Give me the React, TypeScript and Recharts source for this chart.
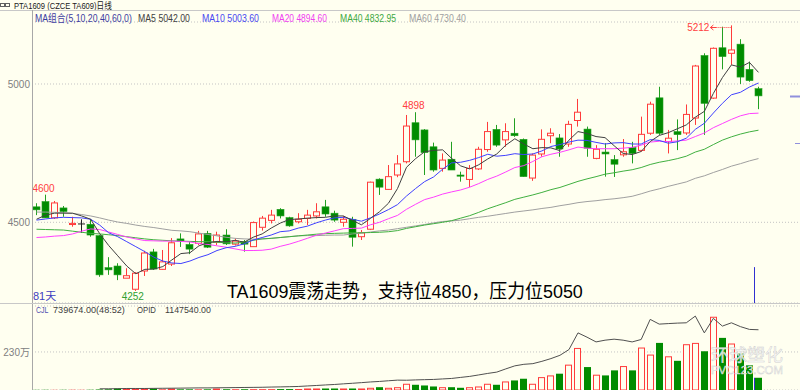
import React from 'react';
import { ComposedChart, Bar, Line, XAxis, YAxis, CartesianGrid } from 'recharts';

// ---------- data ----------
const opens = [4556, 4575, 4516, 4552, 4492, 4494, 4493, 4452, 4336, 4342,
  4298, 4258, 4324, 4393, 4330, 4349, 4440, 4420, 4424, 4460,
  4428, 4454, 4421, 4430, 4412, 4482, 4507, 4547, 4517, 4502,
  4514, 4523, 4556, 4533, 4500, 4511, 4448, 4475, 4656, 4619,
  4671, 4719, 4860, 4834, 4773, 4695, 4728, 4671, 4655, 4693,
  4763, 4836, 4798, 4822, 4800, 4660, 4747, 4813, 4805, 4783,
  4868, 4837, 4731, 4754, 4727, 4744, 4770, 4760, 4822, 4950,
  4792, 4828, 4823, 4877, 5103, 4949, 5131, 5111, 5144, 5053, 4983];
const highs = [4569, 4600, 4577, 4559, 4520, 4511, 4512, 4454, 4374, 4352,
  4334, 4320, 4397, 4404, 4400, 4443, 4460, 4430, 4469, 4469,
  4466, 4475, 4442, 4436, 4503, 4523, 4545, 4551, 4520, 4533,
  4545, 4569, 4581, 4542, 4523, 4520, 4472, 4647, 4659, 4707,
  4743, 4888, 4898, 4837, 4788, 4749, 4791, 4683, 4707, 4773,
  4863, 4852, 4858, 4876, 4803, 4749, 4836, 4840, 4819, 4867,
  4946, 4846, 4779, 4786, 4743, 4801, 4791, 4882, 4936, 4990,
  4834, 4872, 4926, 5069, 5111, 5132, 5207, 5212, 5162, 5081, 4990];
const lows = [4526, 4516, 4512, 4520, 4484, 4462, 4448, 4303, 4310, 4291,
  4298, 4252, 4306, 4328, 4328, 4342, 4411, 4385, 4418, 4407,
  4418, 4418, 4416, 4394, 4412, 4470, 4496, 4514, 4484, 4496,
  4490, 4514, 4520, 4502, 4484, 4412, 4436, 4472, 4599, 4617,
  4663, 4713, 4737, 4671, 4683, 4683, 4689, 4647, 4627, 4689,
  4755, 4773, 4773, 4809, 4665, 4650, 4737, 4786, 4737, 4773,
  4846, 4737, 4728, 4665, 4664, 4737, 4713, 4755, 4816, 4816,
  4749, 4761, 4816, 4852, 4816, 4946, 5053, 5069, 5000, 5008, 4909];
const closes = [4545, 4516, 4570, 4539, 4496, 4494, 4454, 4310, 4328, 4310,
  4307, 4316, 4389, 4331, 4357, 4426, 4432, 4403, 4458, 4410,
  4454, 4422, 4432, 4421, 4499, 4515, 4526, 4523, 4487, 4511,
  4526, 4538, 4530, 4508, 4511, 4446, 4462, 4645, 4627, 4665,
  4711, 4848, 4798, 4752, 4689, 4725, 4689, 4667, 4695, 4764,
  4828, 4779, 4828, 4813, 4665, 4743, 4800, 4822, 4765, 4854,
  4898, 4768, 4764, 4747, 4710, 4755, 4749, 4818, 4927, 4822,
  4804, 4817, 4890, 5065, 4930, 5129, 5099, 5123, 5025, 5012, 4957];

const ma5 = [4511, 4526, 4533, 4533, 4533, 4523, 4511, 4459, 4416, 4379,
  4342, 4314, 4330, 4331, 4340, 4364, 4387, 4390, 4415, 4426,
  4431, 4429, 4435, 4428, 4446, 4458, 4479, 4497, 4510, 4512,
  4515, 4517, 4518, 4523, 4523, 4507, 4491, 4514, 4538, 4569,
  4622, 4699, 4730, 4755, 4760, 4762, 4731, 4704, 4693, 4708,
  4729, 4747, 4779, 4802, 4783, 4766, 4770, 4769, 4759, 4797,
  4828, 4821, 4810, 4806, 4777, 4749, 4745, 4756, 4792, 4814,
  4824, 4838, 4852, 4880, 4901, 4966, 5023, 5069, 5061, 5078, 5042];
const ma10 = [4508, 4512, 4516, 4518, 4517, 4516, 4511, 4490, 4462, 4448,
  4430, 4412, 4394, 4374, 4360, 4353, 4351, 4360, 4373, 4383,
  4398, 4408, 4413, 4422, 4436, 4445, 4454, 4466, 4469, 4479,
  4486, 4498, 4508, 4516, 4518, 4511, 4504, 4516, 4530, 4546,
  4564, 4595, 4622, 4647, 4664, 4692, 4715, 4717, 4724, 4734,
  4746, 4739, 4742, 4748, 4745, 4747, 4758, 4774, 4781, 4790,
  4797, 4796, 4789, 4783, 4787, 4788, 4783, 4783, 4799, 4796,
  4786, 4791, 4804, 4836, 4858, 4895, 4930, 4961, 4970, 4989, 5003.6];
const ma20 = [4445, 4447, 4450, 4452, 4458, 4468, 4476, 4474, 4465, 4456,
  4447, 4440, 4434, 4433, 4432, 4432, 4431, 4429, 4423, 4420,
  4415, 4410, 4404, 4398, 4398, 4399, 4403, 4413, 4421, 4431,
  4442, 4453, 4461, 4469, 4477, 4478, 4479, 4491, 4500, 4513,
  4525, 4547, 4565, 4582, 4591, 4602, 4610, 4617, 4627, 4640,
  4655, 4667, 4682, 4698, 4705, 4720, 4737, 4746, 4753, 4762,
  4772, 4768, 4766, 4766, 4766, 4768, 4771, 4779, 4790, 4793,
  4792, 4794, 4797, 4810, 4823, 4842, 4857, 4872, 4885, 4893, 4894.6];
const ma40 = [4475, 4474, 4473, 4472, 4468, 4464, 4460, 4458, 4455, 4452,
  4448, 4444, 4440, 4437, 4435, 4433, 4432, 4431, 4430, 4430,
  4428, 4426, 4425, 4428, 4435, 4440, 4442, 4445, 4448, 4451,
  4454, 4457, 4459, 4460, 4461, 4462, 4462, 4463, 4464, 4466,
  4470, 4478, 4484, 4490, 4495, 4500, 4506, 4515, 4524, 4536,
  4549, 4560, 4571, 4583, 4591, 4599, 4608, 4618, 4626, 4637,
  4648, 4657, 4665, 4674, 4679, 4685, 4690, 4698, 4709, 4717,
  4723, 4730, 4739, 4754, 4764, 4781, 4797, 4809, 4819, 4827, 4832.95];
const ma60 = [4537, 4537, 4536, 4535, 4532, 4528, 4523, 4516, 4508, 4501,
  4496, 4490, 4485, 4481, 4476, 4471, 4469, 4466, 4461, 4456,
  4451, 4446, 4442, 4440, 4439, 4440, 4442, 4445, 4448, 4451,
  4452, 4452, 4453, 4454, 4454, 4458, 4461, 4465, 4469, 4472,
  4477, 4482, 4487, 4492, 4498, 4503, 4505, 4508, 4513, 4518,
  4522, 4527, 4532, 4537, 4541, 4545, 4550, 4554, 4560, 4565,
  4571, 4575, 4578, 4582, 4585, 4589, 4594, 4603, 4613, 4621,
  4630, 4638, 4646, 4659, 4668, 4680, 4691, 4703, 4712, 4722, 4730.4];

const volumes = [10000, 12000, 10000, 12000, 15000, 12000, 15000, 30000, 40000, 91000,
  91000, 91000, 91000, 91000, 40000, 91000, 40000, 40000, 40000, 40000,
  91000, 45000, 45000, 45000, 50000, 50000, 50000, 55000, 55000, 60000,
  91000, 91000, 91000, 91000, 91000, 91000, 91000, 134000, 170000, 134000,
  170000, 377000, 316000, 274000, 213000, 170000, 170000, 134000, 170000, 213000,
  377000, 316000, 517000, 578000, 681000, 377000, 779000, 882000, 986000, 1533000,
  2543000, 1387000, 925000, 882000, 1187000, 1448000, 1187000, 2568000, 2142000, 2848000,
  2038000, 1765000, 2769000, 2848000, 2343000, 4430000, 3152000, 2811000, 2203000, 1491000, 739674];
const openInterest = [null, null, null, null, null, null, null, 23000, 23000, 25000,
  29000, 29000, 29000, 31000, 33000, 34000, 36000, 38000, 40000, 40000,
  42000, 44000, 46000, 48000, 50000, 52000, 56000, 59000, 63000, 67000,
  77000, 86000, 96000, 105000, 117000, 128000, 140000, 153000, 163000, 176000,
  188000, 186000, 192000, 197000, 201000, 211000, 220000, 240000, 259000, 287000,
  316000, 341000, 402000, 460000, 489000, 502000, 546000, 598000, 661000, 770000,
  1088000, 1006000, 916000, 949000, 968000, 949000, 916000, 962000, 1345000, 1255000,
  1265000, 1274000, 1280000, 1408000, 1088000, 1364000, 1217000, 1280000, 1207000, 1154000, 1147540];

const priceTicks = [4500, 5000];
const volumeTicks = [2300000];
const extremeMarks = [
  { i: 1, kind: 'high' },
  { i: 11, kind: 'low' },
  { i: 42, kind: 'high' },
  { i: 77, kind: 'max' },
];

// ---------- styling ----------
const BG = '#fffff0';
const RED = '#ff3b3b';
const GREEN_FILL = '#008c00';
const GREEN_LINE = '#22a022';
const FONT = '"Liberation Sans", "Noto Sans CJK SC", sans-serif';
const PRICE_DOMAIN: [number, number] = [4208.3, 5224.1];
const CURSOR_TOP_PRICE = 4338;
const LAST = closes.length - 1;

const rows = closes.map((c, i) => ({
  i,
  open: opens[i],
  high: highs[i],
  low: lows[i],
  close: c,
  range: [lows[i], highs[i]],
  ma5: ma5[i],
  ma10: ma10[i],
  ma20: ma20[i],
  ma40: ma40[i],
  ma60: ma60[i],
  vol: volumes[i],
  oi: openInterest[i],
}));

let measureCtx: CanvasRenderingContext2D | null = null;
function naturalWidth(text: string, size: number): number {
  if (!measureCtx && typeof document !== 'undefined') {
    measureCtx = document.createElement('canvas').getContext('2d');
  }
  if (!measureCtx) return text.length * size * 0.55;
  measureCtx.font = `${size}px ${FONT}`;
  return measureCtx.measureText(text).width || text.length * size * 0.55;
}

function FitText({ x, y, size, width, fill, text, stroke, strokeWidth, fillOpacity }: any) {
  const s = width / naturalWidth(text, size);
  return (
    <text
      transform={`translate(${x},${y}) scale(${s.toFixed(4)},1)`}
      fontSize={size}
      fontFamily={FONT}
      fill={fill}
      stroke={stroke}
      strokeWidth={strokeWidth}
      fillOpacity={fillOpacity}
    >
      {text}
    </text>
  );
}

function CandleShape(props: any) {
  const { x, y, width, height, payload } = props;
  if (!payload || x == null || y == null) return null;
  const top = Math.min(y, y + height);
  const h = Math.abs(height);
  const { open, close, high, low, i } = payload;
  const k = h / (high - low);
  const py = (p: number) => top + (high - p) * k;
  const cx = x + width / 2;
  const L = Math.round(cx - 3.5);
  const wx = L + 3.5;
  const els: any[] = [];
  if (close > open) {
    const bt = py(close);
    const bb = py(open);
    els.push(<line key="w1" x1={wx} x2={wx} y1={py(high)} y2={bt} stroke={RED} />);
    els.push(<line key="w2" x1={wx} x2={wx} y1={bb} y2={py(low)} stroke={RED} />);
    els.push(<rect key="b" x={L + 0.5} y={bt} width={6} height={Math.max(bb - bt, 0.8)} fill={BG} stroke={RED} />);
  } else if (close < open) {
    const bt = py(open);
    const bb = py(close);
    els.push(<line key="w" x1={wx} x2={wx} y1={py(high)} y2={py(low)} stroke={GREEN_LINE} />);
    els.push(<rect key="b" x={L} y={bt} width={7} height={Math.max(bb - bt, 1.2)} fill={GREEN_FILL} stroke={GREEN_LINE} strokeWidth={0.6} />);
  } else {
    els.push(<line key="w" x1={wx} x2={wx} y1={py(high)} y2={py(low)} stroke="#202020" />);
    els.push(<line key="b" x1={L} x2={L + 7} y1={py(open)} y2={py(open)} stroke="#202020" />);
  }
  const mark = extremeMarks.find((m) => m.i === i);
  if (mark) {
    if (mark.kind === 'high') {
      els.push(<text key="t" x={cx - 2} y={py(high) - 3} textAnchor="middle" fontSize={10} fontFamily={FONT} fill="#ff4040">{String(high)}</text>);
    } else if (mark.kind === 'low') {
      els.push(<text key="t" x={cx - 3} y={py(low) + 9.5} textAnchor="middle" fontSize={10} fontFamily={FONT} fill="#30a030">{String(low)}</text>);
    } else {
      const yy = Math.round(py(high) + 2) + 0.5;
      els.push(<line key="d" x1={cx - 15} x2={cx} y1={yy} y2={yy} stroke="#ff4040" strokeDasharray="1 1" />);
      els.push(<path key="a" d={`M${cx - 21},${yy} L${cx - 15},${yy} M${cx - 21},${yy} L${cx - 18},${yy - 2.5} M${cx - 21},${yy} L${cx - 18},${yy + 2.5}`} stroke="#ff4040" fill="none" />);
      els.push(<text key="t" x={cx - 22} y={yy + 3.5} textAnchor="end" fontSize={10} fontFamily={FONT} fill="#ff4040">{String(high)}</text>);
    }
  }
  if (i === LAST) {
    els.push(<line key="c" x1={L - 0.5} x2={L - 0.5} y1={py(CURSOR_TOP_PRICE)} y2={py(PRICE_DOMAIN[0])} stroke="#3030d0" />);
  }
  return <g>{els}</g>;
}

function VolumeShape(props: any) {
  const { x, y, width, height, payload } = props;
  if (!payload || x == null || y == null) return null;
  const top = Math.min(y, y + height);
  const h = Math.abs(height);
  const cx = x + width / 2;
  const L = Math.round(cx - 3.5);
  const up = payload.close >= payload.open;
  return (
    <g>
      {up ? (
        <rect x={L + 0.5} y={top + 0.5} width={6} height={Math.max(h - 0.5, 0.6)} fill={BG} stroke={RED} />
      ) : (
        <rect x={L} y={top} width={7} height={Math.max(h, 0.8)} fill={GREEN_FILL} />
      )}
      {payload.i === LAST ? <line x1={L - 0.5} x2={L - 0.5} y1={top} y2={top + h} stroke="#3030d0" /> : null}
    </g>
  );
}

const legend = [
  { text: 'MA组合(5,10,20,40,60,0)', x: 35, len: 97, color: '#3c3ca0' },
  { text: `MA5 ${ma5[LAST].toFixed(2)}`, x: 138, len: 52, color: '#404040' },
  { text: `MA10 ${ma10[LAST].toFixed(2)}`, x: 202, len: 57, color: '#4848f0' },
  { text: `MA20 ${ma20[LAST].toFixed(2)}`, x: 272, len: 55, color: '#f040f0' },
  { text: `MA40 ${ma40[LAST].toFixed(2)}`, x: 340, len: 56, color: '#40a840' },
  { text: `MA60 ${ma60[LAST].toFixed(2)}`, x: 409, len: 57, color: '#a0a0a0' },
];

export default function App() {
  return (
    <div style={{ position: 'fixed', left: 0, top: 0, width: 800, height: 390, background: BG, overflow: 'hidden' }}>
      <div style={{ position: 'absolute', left: 0, top: 0 }}>
        <ComposedChart width={800} height={303} data={rows} margin={{ top: 22, right: 0, bottom: 0, left: 0 }}>
          <CartesianGrid vertical={false} stroke="#c4c4c4" strokeDasharray="1 2" />
          <XAxis dataKey="i" type="category" hide padding={{ left: 0, right: 37 }} />
          <YAxis
            type="number"
            domain={PRICE_DOMAIN}
            allowDataOverflow
            ticks={priceTicks}
            width={32}
            tickLine={false}
            axisLine={false}
            tickSize={0}
            tickMargin={2}
            tick={{ fontSize: 10, fill: '#808080', fontFamily: FONT }}
          />
          <Bar dataKey="range" barSize={7} shape={<CandleShape />} isAnimationActive={false} />
          <Line type="linear" dataKey="ma60" stroke="#a0a0a0" strokeWidth={1} dot={false} activeDot={false} isAnimationActive={false} />
          <Line type="linear" dataKey="ma40" stroke="#40b040" strokeWidth={1} dot={false} activeDot={false} isAnimationActive={false} />
          <Line type="linear" dataKey="ma20" stroke="#ff40ff" strokeWidth={1} dot={false} activeDot={false} isAnimationActive={false} />
          <Line type="linear" dataKey="ma10" stroke="#4040ff" strokeWidth={1} dot={false} activeDot={false} isAnimationActive={false} />
          <Line type="linear" dataKey="ma5" stroke="#404040" strokeWidth={1} dot={false} activeDot={false} isAnimationActive={false} />
        </ComposedChart>
      </div>
      <div style={{ position: 'absolute', left: 0, top: 303 }}>
        <ComposedChart width={800} height={87} data={rows} margin={{ top: 3, right: 0, bottom: 0, left: 0 }}>
          <CartesianGrid vertical={false} stroke="#c4c4c4" strokeDasharray="1 2" />
          <XAxis dataKey="i" type="category" hide padding={{ left: 0, right: 37 }} />
          <YAxis
            type="number"
            domain={[0, 5080000]}
            allowDataOverflow
            ticks={volumeTicks}
            width={32}
            tickLine={false}
            axisLine={false}
            tickSize={0}
            tickMargin={2}
            tickFormatter={(v: number) => `${Math.round(v / 10000)}万`}
            tick={{ fontSize: 10, fill: '#808080', fontFamily: FONT }}
          />
          <YAxis yAxisId="oi" orientation="right" hide domain={[0, 1600000]} allowDataOverflow />
          <Bar dataKey="vol" barSize={7} shape={<VolumeShape />} isAnimationActive={false} />
          <Line yAxisId="oi" type="linear" dataKey="oi" stroke="#505050" strokeWidth={1} dot={false} activeDot={false} isAnimationActive={false} />
        </ComposedChart>
      </div>
      <svg width={800} height={390} style={{ position: 'absolute', left: 0, top: 0, pointerEvents: 'none' }}>
        <rect x={0.5} y={3.5} width={4} height={3} fill="none" stroke="#606060" />
        <rect x={5.5} y={3.5} width={4} height={3} fill="none" stroke="#606060" />
        <FitText x={14} y={8.5} size={9} width={98} fill="#202020" text="PTA1609 (CZCE TA609)日线" />
        <line x1={0} x2={800} y1={10.5} y2={10.5} stroke="#c8c8c8" />
        <line x1={32.5} x2={32.5} y1={10} y2={390} stroke="#a8a8a8" />
        <line x1={0} x2={800} y1={303.5} y2={303.5} stroke="#c8c8c8" />
        {legend.map((l) => (
          <FitText key={l.text} x={l.x} y={21.5} size={10.5} width={l.len} fill={l.color} text={l.text} />
        ))}
        <text x={33} y={300} fontSize={11} fontFamily={FONT} fill="#4040c0">{`${closes.length}天`}</text>
        <FitText x={227} y={298} size={19} width={356} fill="#000000" text="TA1609震荡走势，支持位4850，压力位5050" />
        <FitText x={36} y={313} size={9.5} width={12.5} fill="#5050b0" text="CJL" />
        <FitText x={53} y={313} size={9.5} width={72} fill="#404040" text={`${volumes[LAST].toFixed(2)}(48:52)`} />
        <FitText x={137} y={313} size={9.5} width={19} fill="#404040" text="OPID" />
        <FitText x={165} y={313} size={9.5} width={46} fill="#404040" text={(openInterest[LAST] as number).toFixed(2)} />
        <line x1={790} x2={800} y1={96.5} y2={96.5} stroke="#9090dd" strokeWidth={2} />
        <line x1={795} x2={800} y1={143.5} y2={143.5} stroke="#9090dd" strokeWidth={1} />
        <FitText x={711} y={361} size={17} width={72} fill="#ffffff" fillOpacity={0.85} stroke="#d0d0d0" strokeWidth={0.5} text="环球塑化" />
        <FitText x={711} y={374} size={10} width={72} fill="#ffffff" fillOpacity={0.85} stroke="#d0d0d0" strokeWidth={0.4} text="PVC123.COM" />
      </svg>
    </div>
  );
}
